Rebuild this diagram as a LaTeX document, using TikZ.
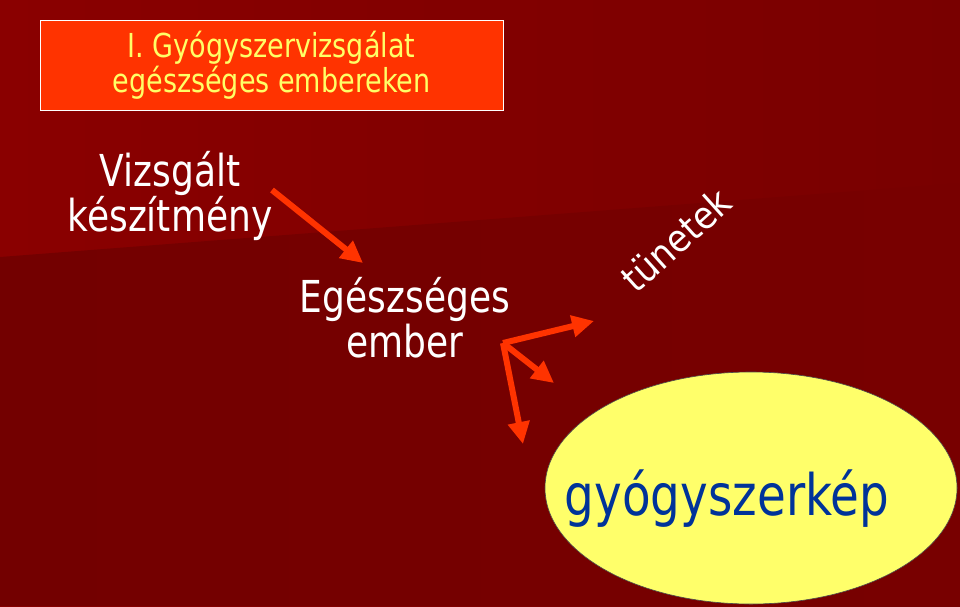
\documentclass[tikz,border=0pt]{standalone}
\usepackage{fontspec}
\setmainfont{DejaVu Sans Condensed}
\usetikzlibrary{arrows.meta,shapes.geometric}
\definecolor{bgA}{HTML}{8A0000}
\definecolor{bgB}{HTML}{790000}
\definecolor{bgC}{HTML}{730000}
\definecolor{bgD}{HTML}{780000}
\definecolor{arrowred}{HTML}{FF3300}
\definecolor{titlefill}{HTML}{FF3300}
\definecolor{lightyellow}{HTML}{FFFF66}
\definecolor{ellfill}{HTML}{FFFF6A}
\definecolor{darkblue}{HTML}{003399}
\tikzset{
  redarrow/.style={draw=arrowred, line width=6pt, -{Triangle[length=22pt,width=21pt]}},
  tallish/.style={yscale=1.1, transform shape},
  whitetext/.style={text=white, align=center, inner sep=0pt, tallish, font=\fontsize{40}{41}\selectfont},
}
\begin{document}
\begin{tikzpicture}[x=1pt,y=-1pt]
\useasboundingbox (0,0) rectangle (960,606);
% background
\shade[left color=bgA, right color=bgB] (0,0) rectangle (960,606);
\shade[left color=bgC, right color=bgD] (0,257) -- (960,183) -- (960,606) -- (0,606) -- cycle;
% title box
\node[draw=white, line width=1pt, fill=titlefill, minimum width=463pt, minimum height=90pt,
      inner sep=0pt] (title) at (271.5,65) {};
\node[text=lightyellow, align=center, inner sep=0pt, tallish,
      font=\fontsize{30}{32}\selectfont] (titletext) at (title.center) {I. Gyógyszervizsgálat\\egészséges embereken};
% texts
\node[whitetext] (prep) at (170,196) {Vizsgált\\készítmény};
\node[whitetext] (man) at (405,318) {Egészséges\\ember};
\node[text=white, inner sep=0pt, rotate=42, font=\fontsize{38}{44}\selectfont] (sym) at (676,240) {tünetek};
% ellipse
\node[ellipse, draw=black!70, line width=0.6pt, fill=ellfill, minimum width=412pt, minimum height=232pt, inner sep=0pt] (ell) at (751,488) {};
\node[text=darkblue, inner sep=0pt, tallish, font=\fontsize{52}{60}\selectfont] (pic) at (727,499) {gyógyszerkép};
% arrow coordinates
\coordinate (a1s) at (272,190);
\coordinate (a1e) at (363,263);
\coordinate (hub) at (503,343);
\coordinate (e2) at (594,321);
\coordinate (e3) at (554,383);
\coordinate (e4) at (523,444);
\draw[redarrow] (a1s) -- (a1e);
\draw[redarrow] (hub) -- (e2);
\draw[redarrow] (hub) -- (e3);
\draw[redarrow] (hub) -- (e4);
\end{tikzpicture}
\end{document}
